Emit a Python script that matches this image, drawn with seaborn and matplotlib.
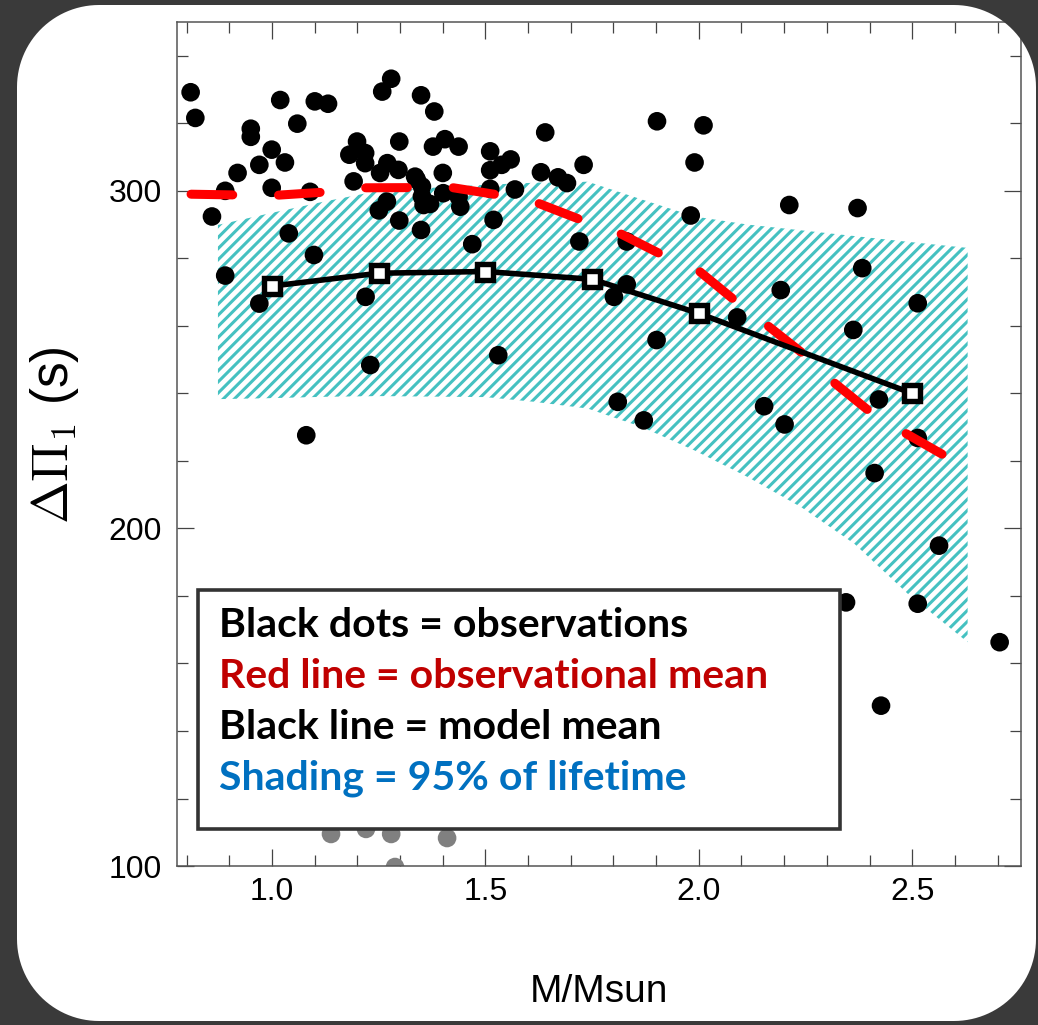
import numpy as np
import matplotlib
matplotlib.use("Agg")
import matplotlib.pyplot as plt
import seaborn as sns
from matplotlib.path import Path
from matplotlib.patches import PathPatch, Rectangle
from matplotlib.ticker import MultipleLocator

# ---- observed stars: mass (M/Msun) and period spacing (s) ----
obs_mass = [0.809, 0.820, 0.950, 0.950, 1.019, 1.059, 1.100, 1.131, 0.919, 0.890,
            0.859, 0.970, 0.999, 1.030, 0.999, 1.089, 1.039, 1.098, 0.890, 0.970,
            1.219, 1.080, 1.230, 1.258, 1.279,
            1.181, 1.199, 1.218, 1.218, 1.191, 1.298, 1.270, 1.296, 1.253, 1.339,
            1.351, 1.351, 1.355, 1.370, 1.269, 1.250, 1.298, 1.349, 1.377, 1.405,
            1.437, 1.400, 1.401, 1.437, 1.441, 1.469, 1.511, 1.511, 1.511, 1.519,
            1.349, 1.380, 1.335,
            1.559, 1.538, 1.569, 1.640, 1.630, 1.670, 1.691, 1.730, 1.720, 1.530,
            1.831, 1.902, 2.011, 1.990, 1.981, 1.831, 1.801, 1.901, 2.090, 2.212,
            2.372, 2.383, 2.192, 2.362, 2.513, 1.810, 1.871, 2.153, 2.201, 2.422,
            2.513, 2.412, 2.563, 2.513, 2.345, 2.705, 2.427]
obs_period = [329.2, 321.6, 318.4, 316.0, 326.9, 319.9, 326.5, 325.8, 305.3, 300.0,
              292.4, 307.7, 312.2, 308.4, 300.9, 299.7, 287.4, 281.0, 274.9, 266.6,
              268.6, 227.6, 248.4, 329.4, 333.2,
              310.7, 314.6, 311.2, 308.2, 302.8, 314.6, 308.2, 306.2, 305.3, 303.3,
              301.3, 298.3, 295.8, 296.1, 296.8, 294.2, 291.2, 288.4, 313.1, 315.3,
              313.1, 305.3, 299.3, 298.3, 295.3, 284.2, 311.7, 306.1, 300.6, 291.4,
              328.3, 323.5, 304.2,
              309.3, 307.7, 300.4, 317.3, 305.5, 304.0, 302.3, 307.7, 285.0, 251.3,
              285.0, 320.6, 319.4, 308.4, 292.7, 272.3, 268.6, 255.8, 262.5, 295.8,
              294.9, 277.1, 270.6, 258.8, 266.7, 237.5, 232.0, 236.2, 230.8, 238.2,
              226.8, 216.4, 194.9, 177.7, 178.1, 166.3, 147.5]

# stars lying underneath the key box (drawn faded)
faded_mass = [1.138, 1.220, 1.279, 1.410, 1.288]
faded_period = [109.5, 111.0, 109.5, 108.3, 99.7]

# ---- observational mean ----
obs_mean_mass = [0.81, 1.00, 1.12, 1.22, 1.42, 1.53, 1.62, 1.72, 1.81, 1.91,
                 2.00, 2.08, 2.16, 2.24, 2.31, 2.40, 2.48, 2.57]
obs_mean_period = [299.0, 298.6, 299.6, 300.9, 301.0, 298.8, 296.5, 291.6, 287.7, 281.3,
                   276.3, 268.0, 260.2, 252.2, 243.9, 234.7, 228.5, 222.0]

# ---- model mean ----
model_mass = [1.0, 1.25, 1.5, 1.75, 2.0, 2.5]
model_mean = [271.8, 275.6, 276.1, 273.8, 263.7, 240.0]

# ---- model range covering 95% of the lifetime ----
band_mass = [0.873, 1.0, 1.125, 1.25, 1.5, 1.615, 1.74, 1.865, 1.99, 2.115,
             2.24, 2.365, 2.49, 2.63]
band_upper = [289.9, 293.5, 296.9, 300.0, 301.8, 302.4, 302.7, 297.5, 292.4, 290.0,
              288.3, 286.6, 284.9, 283.1]
band_lower = [238.3, 238.6, 239.0, 239.2, 238.9, 237.5, 235.5, 230.1, 223.1, 215.2,
              206.3, 195.4, 180.6, 166.3]

key_lines = ["Black dots = observations",
             "Red line = observational mean",
             "Black line = model mean",
             "Shading = 95% of lifetime"]
key_colors = ["black", "#C00000", "black", "#0070C0"]

sns.set_theme(style="ticks")
plt.rcParams["font.family"] = ["Liberation Sans", "DejaVu Sans"]
plt.rcParams["mathtext.fontset"] = "cm"
plt.rcParams["hatch.linewidth"] = 2.2
plt.rcParams["lines.scale_dashes"] = False
plt.rcParams["text.color"] = "black"
plt.rcParams["axes.labelcolor"] = "black"

W, H = 10.38, 10.25
fig = plt.figure(figsize=(W, H), dpi=100, facecolor="white")
ax = fig.add_axes([0.1705, 0.1551, 0.8131, 0.8234])
ax.set_facecolor("white")

# shaded model range
ax.fill_between(band_mass, band_lower, band_upper, facecolor="none",
                edgecolor="#45C1C1", hatch="///", linewidth=0, zorder=1)

# observations
sns.scatterplot(x=obs_mass, y=obs_period, s=180, color="black", edgecolor="none",
                linewidth=0, ax=ax, zorder=2)
sns.scatterplot(x=faded_mass, y=faded_period, s=180, color="#808080", edgecolor="none",
                linewidth=0, ax=ax, zorder=2)

# observational mean (dashed red)
ax.plot(obs_mean_mass, obs_mean_period, color="#FF0000", linewidth=6.5,
        linestyle=(0, (30, 33)), dash_capstyle="round", solid_capstyle="round",
        zorder=3)

# model mean with open square markers
ax.plot(model_mass, model_mean, color="black", linewidth=4.0, marker="s",
        markersize=12.0, markerfacecolor="white", markeredgecolor="black",
        markeredgewidth=3.9, zorder=4)

ax.set_xlim(0.777, 2.755)
ax.set_ylim(100, 350)
ax.xaxis.set_major_locator(MultipleLocator(0.5))
ax.xaxis.set_minor_locator(MultipleLocator(0.1))
ax.yaxis.set_major_locator(MultipleLocator(100))
ax.yaxis.set_minor_locator(MultipleLocator(20))
ax.tick_params(which="both", direction="in", top=True, right=True,
               color="#444444", width=0.9, labelsize=23, labelcolor="black")
ax.tick_params(which="major", length=12.5)
ax.tick_params(which="minor", length=8)
ax.tick_params(axis="x", which="major", pad=8)
ax.tick_params(axis="y", which="major", pad=11)
for sp in ax.spines.values():
    sp.set_visible(True)
    sp.set_color("#555555")
    sp.set_linewidth(1.1)

ax.set_xlabel("M/Msun", fontsize=28, va="center", color="black")
ax.xaxis.set_label_coords(0.5, -0.149)
ax.set_ylabel(r"$\Delta\Pi_1$ (s)", fontsize=37, va="center", color="black")
ax.yaxis.set_label_coords(-0.145, 0.511)

# key box
ax.add_patch(Rectangle((0.0249, 0.0438), 0.7607, 0.2832, transform=ax.transAxes,
                       facecolor="white", edgecolor="#333333", linewidth=2.6,
                       zorder=6, clip_on=False))
for i, (txt, col) in enumerate(zip(key_lines, key_colors)):
    ax.text(0.0498, 0.2713 - i * 0.0604, txt, transform=ax.transAxes, color=col,
            fontsize=29.5, fontweight="bold", family=["Lato", "DejaVu Sans"],
            va="baseline", ha="left", zorder=7)

# slide frame: dark surround with a rounded white card
def rounded_outline(x0, y0, x1, y1, r, n=30):
    pts = []
    corners = [((x1 - r, y0 + r), -90, 0), ((x1 - r, y1 - r), 0, 90),
               ((x0 + r, y1 - r), 90, 180), ((x0 + r, y0 + r), 180, 270)]
    for (cx, cy), a0, a1 in corners:
        t = np.radians(np.linspace(a0, a1, n))
        pts.extend(zip(cx + r * np.cos(t), cy + r * np.sin(t)))
    return pts

outer = [(0, 0), (0, H), (W, H), (W, 0)]
inner = rounded_outline(0.17, 0.04, 10.36, 10.20, 0.82)
verts = outer + [outer[0]] + inner + [inner[0]]
codes = ([Path.MOVETO] + [Path.LINETO] * 3 + [Path.CLOSEPOLY]
         + [Path.MOVETO] + [Path.LINETO] * (len(inner) - 1) + [Path.CLOSEPOLY])
frame = PathPatch(Path(verts, codes), facecolor="#3a3a3a", edgecolor="none",
                  transform=fig.dpi_scale_trans, zorder=20)
fig.add_artist(frame)

fig.savefig("out.png", dpi=100, facecolor="white")
